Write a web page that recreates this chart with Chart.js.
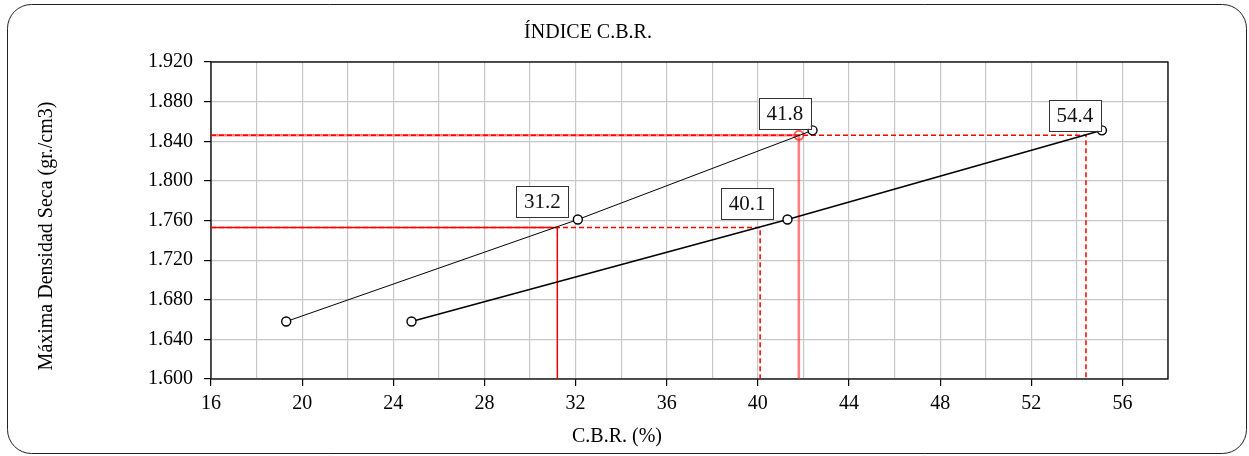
<!DOCTYPE html>
<html>
<head>
<meta charset="utf-8">
<script src="https://cdn.jsdelivr.net/npm/chart.js@4.4.1/dist/chart.umd.min.js"></script>
<style>
  html, body { margin: 0; padding: 0; background: #ffffff; }
  #wrap { width: 1249px; height: 456px; position: relative; }
</style>
</head>
<body>
<div id="wrap"><canvas id="cbr"></canvas></div>
<script>
// Ensayo C.B.R.: densidad seca vs. índice C.B.R.
const cbrCurvaA = [19.3, 32.1, 42.4];
const densCurvaA = [1.658, 1.761, 1.851];
const cbrCurvaB = [24.8, 41.3, 55.1];
const densCurvaB = [1.658, 1.761, 1.851];

// Densidades de referencia (95% y 100% de la M.D.S.)
const densReferencia = [1.753, 1.846];
const cbrLeidoA = [31.2, 41.8];
const cbrLeidoB = [40.1, 54.4];

const xTickLabels = [16, 20, 24, 28, 32, 36, 40, 44, 48, 52, 56];
const yTickLabels = ['1.600', '1.640', '1.680', '1.720', '1.760', '1.800', '1.840', '1.880', '1.920'];

const X_MIN = 16, X_MAX = 58, Y_MIN = 1.6, Y_MAX = 1.92;
const FONT = 'Liberation Serif, "Times New Roman", serif';

const toPts = (xs, ys) => xs.map((x, i) => ({ x: x, y: ys[i] }));
const guide = (cbr, dens) => [{ x: X_MIN, y: dens }, { x: cbr, y: dens }, { x: cbr, y: Y_MIN }];

const datasets = [
  {
    data: toPts(cbrCurvaA, densCurvaA),
    borderColor: '#000', borderWidth: 1,
    pointRadius: 4.5, pointBorderWidth: 1.4,
    pointBorderColor: '#000', pointBackgroundColor: '#fff', order: 0
  },
  {
    data: toPts(cbrCurvaB, densCurvaB),
    borderColor: '#000', borderWidth: 1.6,
    pointRadius: 4.5, pointBorderWidth: 1.4,
    pointBorderColor: '#000', pointBackgroundColor: '#fff', order: 0
  },
  {
    data: guide(cbrLeidoA[0], densReferencia[0]),
    borderColor: '#ee0000', borderWidth: 1.5, pointRadius: 0, order: 3
  },
  {
    data: guide(cbrLeidoA[1], densReferencia[1]),
    borderColor: 'rgba(255,40,40,0.6)', borderWidth: 2.5,
    pointRadius: [0, 4.5, 0], pointBorderWidth: 2,
    pointBorderColor: 'rgba(255,40,40,0.75)', pointBackgroundColor: 'rgba(255,255,255,0)', order: 3
  },
  {
    data: guide(cbrLeidoB[0], densReferencia[0]),
    borderColor: '#ff0000', borderWidth: 1.5, borderDash: [5, 3], pointRadius: 0, order: 2
  },
  {
    data: guide(cbrLeidoB[1], densReferencia[1]),
    borderColor: '#ff0000', borderWidth: 1.5, borderDash: [5, 3], pointRadius: 0, order: 2
  }
];

// Cajas con el valor de C.B.R. leído
const etiquetas = [
  { cbr: cbrLeidoA[0], dens: densReferencia[0], dx: -15, dy: -26 },
  { cbr: cbrLeidoB[0], dens: densReferencia[0], dx: -13, dy: -24 },
  { cbr: cbrLeidoA[1], dens: densReferencia[1], dx: -14, dy: -22 },
  { cbr: cbrLeidoB[1], dens: densReferencia[1], dx: -11, dy: -20 }
];

const decoracion = {
  id: 'decoracion',
  beforeDraw(chart) {
    const c = chart.ctx;
    c.save();
    c.fillStyle = '#fff';
    c.fillRect(0, 0, chart.width, chart.height);
    // marco redondeado exterior
    c.strokeStyle = '#222';
    c.lineWidth = 1;
    c.beginPath();
    c.roundRect(7.5, 4.5, 1239, 449, 24);
    c.stroke();
    // títulos
    c.fillStyle = '#000';
    c.font = '20px ' + FONT;
    c.textAlign = 'center';
    c.textBaseline = 'middle';
    c.fillText('ÍNDICE C.B.R.', 588, 33);
    c.fillText('C.B.R. (%)', 617, 437);
    c.translate(47, 236);
    c.rotate(-Math.PI / 2);
    c.fillText('Máxima Densidad Seca (gr./cm3)', 0, 0);
    c.restore();
  },
  beforeDatasetsDraw(chart) {
    const a = chart.chartArea;
    const c = chart.ctx;
    c.save();
    c.strokeStyle = '#000';
    c.lineWidth = 1.3;
    c.strokeRect(a.left, a.top, a.right - a.left, a.bottom - a.top);
    c.restore();
  },
  afterDatasetsDraw(chart) {
    const xs = chart.scales.x, ys = chart.scales.y;
    const c = chart.ctx;
    c.save();
    c.font = '21px ' + FONT;
    c.textAlign = 'center';
    c.textBaseline = 'middle';
    etiquetas.forEach(e => {
      const cx = xs.getPixelForValue(e.cbr) + e.dx;
      const cy = ys.getPixelForValue(e.dens) + e.dy;
      const w = 52, h = 31;
      c.fillStyle = '#fff';
      c.fillRect(cx - w / 2, cy - h / 2, w, h);
      c.strokeStyle = '#333';
      c.lineWidth = 1;
      c.strokeRect(Math.round(cx - w / 2) + 0.5, Math.round(cy - h / 2) + 0.5, w, h);
      c.fillStyle = '#111';
      c.fillText(e.cbr.toFixed(1), cx, cy + 1);
    });
    c.restore();
  }
};

new Chart(document.getElementById('cbr'), {
  type: 'line',
  data: { datasets: datasets },
  options: {
    responsive: true,
    maintainAspectRatio: false,
    animation: false,
    layout: { padding: { left: 0, right: 81, top: 62, bottom: 0 } },
    plugins: { legend: { display: false }, tooltip: { enabled: false }, title: { display: false } },
    elements: { line: { tension: 0, fill: false } },
    scales: {
      x: {
        type: 'linear', min: X_MIN, max: X_MAX,
        border: { display: false },
        afterBuildTicks(scale) {
          const t = [];
          for (let v = X_MIN; v <= X_MAX; v += 2) t.push({ value: v });
          scale.ticks = t;
        },
        ticks: {
          autoSkip: false, maxRotation: 0, padding: 6, color: '#000',
          font: { family: FONT, size: 20 },
          callback: v => xTickLabels.includes(v) ? String(v) : ''
        },
        grid: {
          color: '#c8c8c8', lineWidth: 1.2, tickLength: 7,
          tickColor: ctx => (ctx.tick && xTickLabels.includes(ctx.tick.value)) ? '#000' : 'rgba(0,0,0,0)'
        },
        afterFit(scale) { scale.height = 456 - 379; }
      },
      y: {
        type: 'linear', min: Y_MIN, max: Y_MAX,
        border: { display: false },
        afterBuildTicks(scale) {
          scale.ticks = yTickLabels.map(s => ({ value: parseFloat(s) }));
        },
        ticks: {
          autoSkip: false, padding: 11, color: '#000',
          font: { family: FONT, size: 20 },
          callback: (v, i) => yTickLabels[i]
        },
        grid: { color: '#c8c8c8', lineWidth: 1.2, tickLength: 7, tickColor: '#000' },
        afterFit(scale) { scale.width = 211; }
      }
    }
  },
  plugins: [decoracion]
});
</script>
</body>
</html>
